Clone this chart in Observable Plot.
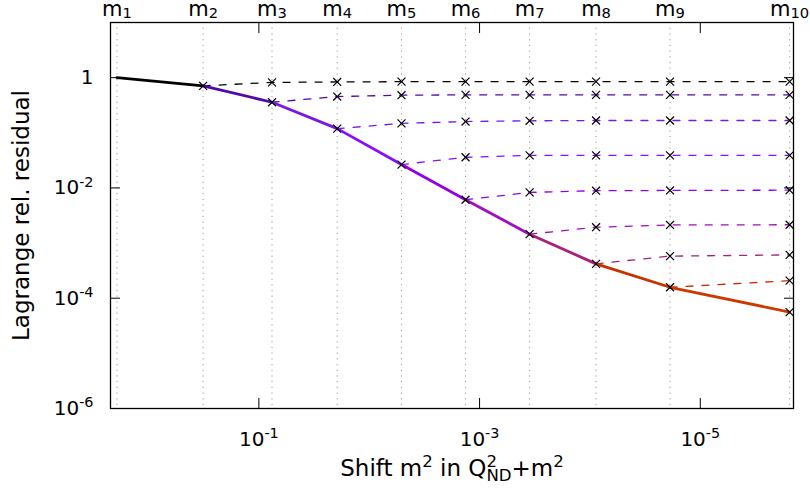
<!DOCTYPE html>
<html>
<head>
<meta charset="utf-8">
<script src="https://cdn.jsdelivr.net/npm/d3@7"></script>
<script src="https://cdn.jsdelivr.net/npm/@observablehq/plot@0.6"></script>
<style>
  html, body { margin: 0; padding: 0; background: #fff; }
  #chart { width: 810px; height: 502px; }
</style>
</head>
<body>
<div id="chart"></div>
<script>
// ---- data ----
const mLabels = ["m_{1}", "m_{2}", "m_{3}", "m_{4}", "m_{5}", "m_{6}", "m_{7}", "m_{8}", "m_{9}", "m_{10}"];
const shiftM2 = [1.93, 0.32, 0.076, 0.0195, 0.0051, 0.00134, 0.000352, 0.000088, 0.0000188, 0.00000155];
const mainResidual = [1.0, 0.71, 0.358, 0.119, 0.0265, 0.0061, 0.00145, 0.00042, 0.000158, 0.000056];
// dashed continuations starting at m2 .. m9 (values at the following m's)
const restartM2 = [0.82, 0.835, 0.845, 0.845, 0.845, 0.845, 0.845, 0.845];
const restartM3 = [0.454, 0.48, 0.487, 0.487, 0.487, 0.487, 0.487];
const restartM4 = [0.148, 0.16, 0.165, 0.167, 0.167, 0.167];
const restartM5 = [0.036, 0.039, 0.039, 0.039, 0.039];
const restartM6 = [0.0083, 0.0089, 0.009, 0.0091];
const restartM7 = [0.00194, 0.00213, 0.00215];
const restartM8 = [0.00058, 0.00061];
const restartM9 = [0.000208];
const restarts = [restartM2, restartM3, restartM4, restartM5, restartM6, restartM7, restartM8, restartM9];
const seriesColors = ["#000000", "#5208a8", "#7a18e0", "#8a0cff", "#9400e6", "#a00ec0", "#a8207a", "#c83000", "#cc3800"];
const xTicks = [1e-1, 1e-3, 1e-5];
const xTickLabels = ["10^{-1}", "10^{-3}", "10^{-5}"];
const yTicks = [1, 1e-2, 1e-4, 1e-6];
const yTickLabels = ["1", "10^{-2}", "10^{-4}", "10^{-6}"];
const xTitle = "Shift m^{2} in Q^{2}_{ND}+m^{2}";
const yTitle = "Lagrange rel. residual";

// ---- tables built from the arrays ----
const solidRows = [];
for (let i = 0; i < shiftM2.length - 1; i++) {
  solidRows.push({s: i, x: shiftM2[i], y: mainResidual[i], c: seriesColors[i]});
  solidRows.push({s: i, x: shiftM2[i + 1], y: mainResidual[i + 1], c: seriesColors[i]});
}
const dashedRows = [];
const dotRows = [];
restarts.forEach((vals, r) => {
  const k = r + 1; // start index
  dashedRows.push({s: r, x: shiftM2[k], y: mainResidual[k], c: seriesColors[r]});
  vals.forEach((v, j) => {
    dashedRows.push({s: r, x: shiftM2[k + 1 + j], y: v, c: seriesColors[r]});
    dotRows.push({x: shiftM2[k + 1 + j], y: v});
  });
});
for (let i = 1; i < shiftM2.length; i++) dotRows.push({x: shiftM2[i], y: mainResidual[i]});
const topRows = shiftM2.map((v, i) => ({x: v, t: mLabels[i]}));

const plot = Plot.plot({
  width: 810,
  height: 502,
  marginLeft: 110,
  marginRight: 17,
  marginTop: 22,
  marginBottom: 94,
  style: {fontFamily: "DejaVu Sans, sans-serif", fontSize: "20px", background: "#fff", color: "#000"},
  x: {type: "log", domain: [2.21, 1.43e-6], axis: null},
  y: {type: "log", domain: [1e-6, 10], axis: null},
  color: {type: "identity"},
  marks: [
    Plot.ruleX(shiftM2, {stroke: "#9a9a9a", strokeWidth: 1, strokeDasharray: "1.2,4.5"}),
    Plot.line(dashedRows, {x: "x", y: "y", z: "s", stroke: "c", strokeWidth: 1.3, strokeDasharray: "7,9"}),
    Plot.line(solidRows, {x: "x", y: "y", z: "s", stroke: "c", strokeWidth: 2.8}),
    Plot.dot(dotRows, {x: "x", y: "y", symbol: "times", r: 3.7, stroke: "#000", strokeWidth: 1.2}),
    Plot.frame({stroke: "#000", strokeWidth: 1.3}),
    // inward ticks
    Plot.axisX(xTicks, {anchor: "bottom", tickSize: -10, tickFormat: () => "", label: null}),
    Plot.axisX(xTicks, {anchor: "top", tickSize: -10, tickFormat: () => "", label: null}),
    Plot.axisY(yTicks, {anchor: "left", tickSize: -10, tickFormat: () => "", label: null}),
    Plot.axisY(yTicks, {anchor: "right", tickSize: -10, tickFormat: () => "", label: null}),
    // tick labels
    Plot.axisX(xTicks, {anchor: "bottom", tickSize: 0, tickPadding: 23, fontSize: 20,
      tickFormat: d => xTickLabels[xTicks.indexOf(d)], label: null}),
    Plot.axisY(yTicks, {anchor: "left", tickSize: 0, tickPadding: 17, fontSize: 20,
      tickFormat: d => yTickLabels[yTicks.indexOf(d)], label: null}),
    // axis titles
    Plot.axisX(xTicks, {anchor: "bottom", tickSize: 0, tickFormat: () => "", fontSize: 23,
      label: xTitle, labelAnchor: "center", labelOffset: 67, labelArrow: "none"}),
    Plot.axisY(yTicks, {anchor: "left", tickSize: 0, tickFormat: () => "", fontSize: 23,
      label: yTitle, labelAnchor: "center", labelOffset: 98, labelArrow: "none"}),
    // top labels m_k
    Plot.text(topRows, {x: "x", text: "t", frameAnchor: "top", lineAnchor: "bottom", dy: -7, fontSize: 21})
  ]
});
document.getElementById("chart").appendChild(plot);

// gnuplot-style super/subscripts as real text
function richify(el, str) {
  const NS = "http://www.w3.org/2000/svg";
  const fs = parseFloat(getComputedStyle(el).fontSize) || 20;
  const isTop = /^m_\{/.test(str);
  const supScale = 0.72, subScale = isTop ? 0.7 : 0.72;
  const supShift = 0.38 * fs, subShift = (isTop ? 0.1 : 0.25) * fs;
  const re = /(\^|_)\{([^}]*)\}|([^^_]+)/g;
  const parts = [];
  let m;
  while ((m = re.exec(str))) parts.push(m[3] != null ? {t: m[3], k: 0} : {t: m[2], k: m[1] === "^" ? 1 : -1});
  el.textContent = "";
  let cur = 0, prevW = 0;
  parts.forEach((p, i) => {
    const ts = document.createElementNS(NS, "tspan");
    ts.textContent = p.t;
    const target = p.k === 1 ? supShift : p.k === -1 ? -subShift : 0;
    const dy = cur - target;
    if (dy) ts.setAttribute("dy", dy.toFixed(2));
    cur = target;
    if (p.k) ts.setAttribute("font-size", ((p.k === 1 ? supScale : subScale) * fs).toFixed(2));
    if (p.k === -1 && i > 0 && parts[i - 1].k === 1) ts.setAttribute("dx", (-prevW).toFixed(2));
    el.appendChild(ts);
    prevW = ts.getComputedTextLength ? ts.getComputedTextLength() : 0;
  });
}
plot.querySelectorAll("text").forEach(t => {
  const s = t.textContent;
  if (/[\^_]\{/.test(s)) richify(t, s);
});
</script>
</body>
</html>
